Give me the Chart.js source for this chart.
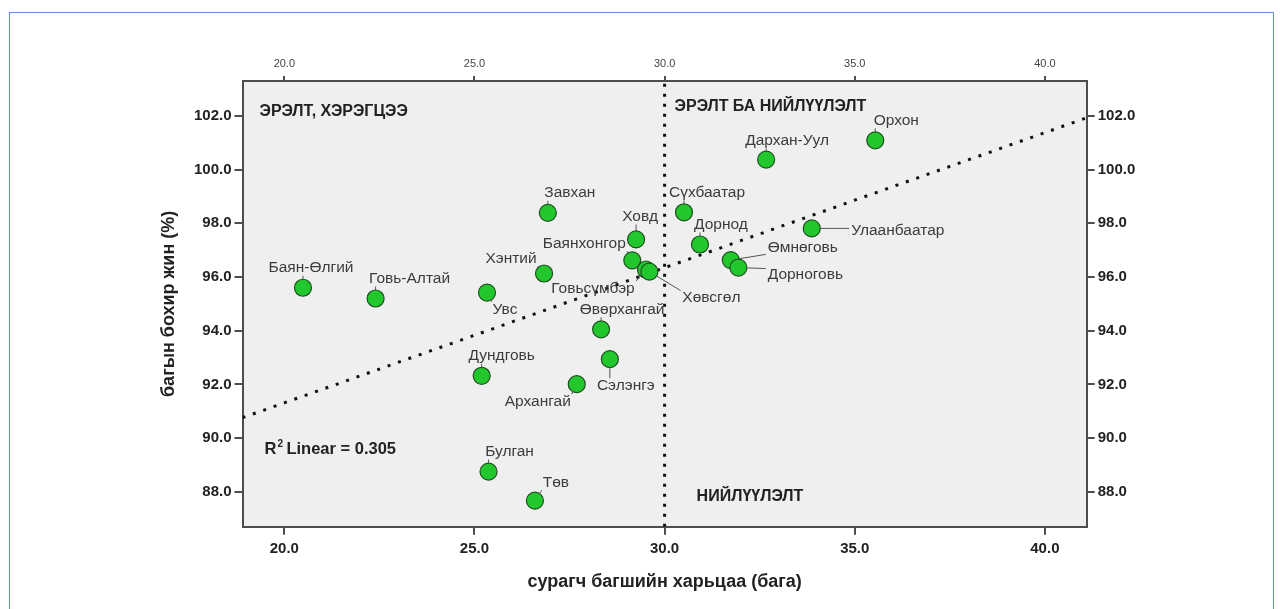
<!DOCTYPE html>
<html lang="mn">
  <head>
    <meta charset="UTF-8" />
    <meta name="viewport" content="width=device-width, initial-scale=1.0" />
    <title>Сурагч багшийн харьцаа ба багын бохир жин</title>
    <style>
      html, body { margin: 0; padding: 0; background: #fff; }
      .frame {
        position: absolute; left: 9px; top: 12px;
        width: 1263px; height: 640px;
        border: 1px solid #5b8bd0;
      }
      .chartBox { position: absolute; left: 0; top: 0; width: 1282px; height: 609px; }
    </style>
  </head>
  <body>
    <div class="frame"></div>
    <div class="chartBox">
      <canvas id="myChart" width="1282" height="609"></canvas>
    </div>
    <script src="https://cdn.jsdelivr.net/npm/chart.js"></script>
    <script>
      // aimags, x = pupil/teacher ratio, y = school net weight (%)
      const names = [
        "Баян-Өлгий", "Говь-Алтай", "Увс", "Хэнтий", "Завхан", "Ховд",
        "Баянхонгор", "Говьсүмбэр", "Хөвсгөл", "Өвөрхангай", "Дундговь",
        "Архангай", "Сэлэнгэ", "Булган", "Төв", "Сүхбаатар", "Дархан-Уул",
        "Орхон", "Дорнод", "Улаанбаатар", "Өмнөговь", "Дорноговь",
      ];
      const ratio = [
        20.49, 22.40, 25.33, 26.83, 26.93, 29.25,
        29.15, 29.51, 29.60, 28.33, 25.19,
        27.69, 28.56, 25.37, 26.59, 30.51, 32.67,
        35.54, 30.93, 33.87, 31.74, 31.94,
      ];
      const weight = [
        95.60, 95.20, 95.42, 96.13, 98.39, 97.40,
        96.62, 96.28, 96.20, 94.05, 92.32,
        92.01, 92.94, 88.75, 87.67, 98.41, 100.37,
        101.09, 97.21, 97.81, 96.63, 96.35,
      ];
      const xTicks = [20, 25, 30, 35, 40];
      const yTicks = [88, 90, 92, 94, 96, 98, 100, 102];
      const xRange = [18.9, 41.1];
      const yRange = [86.7, 103.3];
      // fit line (R2 Linear = 0.305) and the split at ratio 30
      const trendX = [18.9, 41.1];
      const trendY = [90.76, 101.93];
      const splitX = [30, 30];
      const splitY = [86.7, 103.3];
      const r2Text = "0.305";

      const xTitle = "сурагч багшийн харьцаа (бага)";
      const yTitle = "багын бохир жин (%)";

      // label offset from its dot, in px (layout only)
      const labelPos = {
        "Баян-Өлгий": [8, -20], "Говь-Алтай": [34, -20], "Увс": [18, 17],
        "Хэнтий": [-33, -15], "Завхан": [22, -20], "Ховд": [4, -23],
        "Баянхонгор": [-48, -17], "Говьсүмбэр": [-53, 19], "Хөвсгөл": [62, 26],
        "Өвөрхангай": [21, -20], "Дундговь": [20, -20], "Архангай": [-39, 18],
        "Сэлэнгэ": [16, 27], "Булган": [21, -20], "Төв": [21, -18],
        "Сүхбаатар": [23, -20], "Дархан-Уул": [21, -19], "Орхон": [21, -20],
        "Дорнод": [21, -20], "Улаанбаатар": [86, 2], "Өмнөговь": [72, -12],
        "Дорноговь": [67, 7],
      };

      const fam = '"Liberation Sans", Arial, sans-serif';
      const axisColor = "#4d4d4d";
      const boldFont = { family: fam, size: 15, weight: "bold" };
      const titleFont = { family: fam, size: 18, weight: "bold" };

      const fixTicks = (list) => (s) => {
        s.ticks = list.map((v) => ({ value: v }));
      };
      const fmt = (v) => Number(v).toFixed(1);

      const labelPlugin = {
        id: "pointLabels",
        beforeDraw(chart) {
          const { ctx, chartArea: a } = chart;
          ctx.save();
          ctx.fillStyle = "#efefef";
          ctx.fillRect(a.left, a.top, a.right - a.left, a.bottom - a.top);
          ctx.restore();
        },
        afterDatasetsDraw(chart) {
          const { ctx, chartArea: a } = chart;
          const pts = chart.getDatasetMeta(0).data;
          ctx.save();
          ctx.font = "15.5px " + fam;
          ctx.textAlign = "center";
          ctx.textBaseline = "middle";
          names.forEach((name, i) => {
            const p = pts[i];
            const [dx, dy] = labelPos[name];
            const tx = p.x + dx;
            const ty = p.y + dy;
            const w = ctx.measureText(name).width;
            const bx = Math.min(Math.max(p.x, tx - w / 2), tx + w / 2);
            const by = Math.min(Math.max(p.y, ty - 6), ty + 6);
            const len = Math.hypot(bx - p.x, by - p.y);
            if (len > 10) {
              const ux = (bx - p.x) / len;
              const uy = (by - p.y) / len;
              ctx.beginPath();
              ctx.moveTo(p.x + ux * 8, p.y + uy * 8);
              ctx.lineTo(bx - ux * 2, by - uy * 2);
              ctx.strokeStyle = "#555";
              ctx.lineWidth = 1;
              ctx.stroke();
            }
            ctx.fillStyle = "#3c3c3c";
            ctx.fillText(name, tx, ty);
          });

          // quadrant notes
          const splitPx = chart.scales.x.getPixelForValue(splitX[0]);
          ctx.font = "bold 16px " + fam;
          ctx.textAlign = "left";
          ctx.fillStyle = "#222";
          ctx.fillText("ЭРЭЛТ, ХЭРЭГЦЭЭ", a.left + 17, a.top + 31);
          ctx.fillText("ЭРЭЛТ БА НИЙЛҮҮЛЭЛТ", splitPx + 10, a.top + 26);
          ctx.fillText("НИЙЛҮҮЛЭЛТ", splitPx + 32, a.bottom - 30);

          // R2 note
          const rx = a.left + 22;
          const ry = a.bottom - 77;
          ctx.font = "bold 16.5px " + fam;
          ctx.fillText("R", rx, ry);
          const rw = ctx.measureText("R").width;
          ctx.font = "bold 10px " + fam;
          ctx.fillText("2", rx + rw + 1, ry - 5);
          ctx.font = "bold 16.5px " + fam;
          ctx.fillText("Linear = " + r2Text, rx + rw + 10, ry);
          ctx.restore();
        },
      };

      const ctx = document.getElementById("myChart").getContext("2d");
      const myChart = new Chart(ctx, {
        type: "scatter",
        data: {
          datasets: [
            {
              label: "aimags",
              data: ratio.map((x, i) => ({ x: x, y: weight[i] })),
              backgroundColor: "#22c72e",
              borderColor: "#1d4f1d",
              borderWidth: 1.2,
              pointRadius: 8.5,
              pointHoverRadius: 8.5,
              order: 0,
            },
            {
              type: "line",
              label: "fit",
              data: trendX.map((x, i) => ({ x: x, y: trendY[i] })),
              borderColor: "#111",
              borderWidth: 3,
              borderDash: [3, 8],
              pointRadius: 0,
              fill: false,
              order: 1,
            },
            {
              type: "line",
              label: "split",
              data: splitX.map((x, i) => ({ x: x, y: splitY[i] })),
              borderColor: "#111",
              borderWidth: 3,
              borderDash: [3, 7],
              pointRadius: 0,
              fill: false,
              order: 2,
            },
          ],
        },
        options: {
          responsive: false,
          animation: false,
          devicePixelRatio: 1,
          layout: { padding: { left: 150, right: 100, top: 20, bottom: 0 } },
          plugins: {
            legend: { display: false },
            tooltip: { enabled: false },
          },
          scales: {
            x: {
              type: "linear",
              position: "bottom",
              min: xRange[0],
              max: xRange[1],
              afterBuildTicks: fixTicks(xTicks),
              afterFit: (s) => { s.height = 82.3; },
              grid: { drawOnChartArea: false, tickLength: 8, color: axisColor, lineWidth: 2 },
              border: { display: true, color: axisColor, width: 2 },
              ticks: { font: boldFont, color: "#222", padding: 5, maxRotation: 0, callback: fmt },
              title: {
                display: true, text: xTitle, font: titleFont, color: "#222",
                padding: { top: 0, bottom: 16 },
              },
            },
            x2: {
              type: "linear",
              position: "top",
              min: xRange[0],
              max: xRange[1],
              afterBuildTicks: fixTicks(xTicks),
              afterFit: (s) => { s.height = 61; },
              grid: { drawOnChartArea: false, tickLength: 5, color: axisColor, lineWidth: 2 },
              border: { display: true, color: axisColor, width: 2 },
              ticks: { font: { family: fam, size: 11 }, color: "#444", padding: 5, maxRotation: 0, callback: fmt },
            },
            y: {
              type: "linear",
              position: "left",
              min: yRange[0],
              max: yRange[1],
              afterBuildTicks: fixTicks(yTicks),
              afterFit: (s) => { s.width = 92.5; },
              grid: { drawOnChartArea: false, tickLength: 8, color: axisColor, lineWidth: 2 },
              border: { display: true, color: axisColor, width: 2 },
              ticks: { font: boldFont, color: "#222", padding: 3, callback: fmt },
              title: {
                display: true, text: yTitle, font: titleFont, color: "#222",
                padding: { top: 8, bottom: 0 },
              },
            },
            y2: {
              type: "linear",
              position: "right",
              min: yRange[0],
              max: yRange[1],
              afterBuildTicks: fixTicks(yTicks),
              afterFit: (s) => { s.width = 95.3; },
              grid: { drawOnChartArea: false, tickLength: 8, color: axisColor, lineWidth: 2 },
              border: { display: true, color: axisColor, width: 2 },
              ticks: { font: boldFont, color: "#222", padding: 3, callback: fmt },
            },
          },
        },
        plugins: [labelPlugin],
      });
    </script>
  </body>
</html>
